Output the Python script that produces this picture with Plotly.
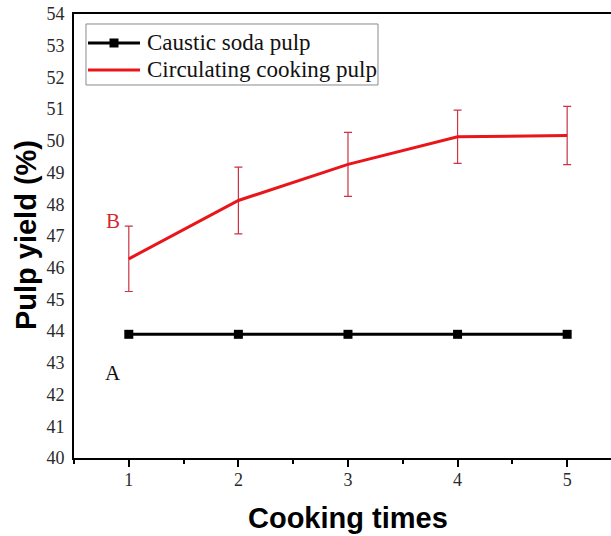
import plotly.graph_objects as go

cooking_times = [1, 2, 3, 4, 5]
caustic_soda = [43.9, 43.9, 43.9, 43.9, 43.9]
circulating = [46.28, 48.12, 49.26, 50.13, 50.17]
circulating_err = [1.03, 1.05, 1.01, 0.84, 0.92]
legend_labels = ["Caustic soda pulp", "Circulating cooking pulp"]

serif = "Liberation Serif, Times New Roman, serif"
sans = "Liberation Sans, Arial, sans-serif"
black = "black"
red = "#e8161b"

fig = go.Figure()
fig.add_trace(go.Scatter(
    x=cooking_times, y=caustic_soda, name=legend_labels[0],
    mode="lines+markers",
    line=dict(color=black, width=3),
    marker=dict(symbol="square", size=9, color=black),
    showlegend=False,
))
fig.add_trace(go.Scatter(
    x=cooking_times, y=circulating, name=legend_labels[1],
    mode="lines",
    line=dict(color=red, width=3),
    error_y=dict(type="data", array=circulating_err, visible=True,
                 color="#cc3344", thickness=1.2, width=4),
    showlegend=False,
))

# point labels
fig.add_annotation(x=0.855, y=47.47, xref="x", yref="y", text="B", showarrow=False,
                   font=dict(family=serif, size=21, color="#d42a2a"))
fig.add_annotation(x=0.855, y=42.67, xref="x", yref="y", text="A", showarrow=False,
                   font=dict(family=serif, size=21, color="#111111"))

# axis titles
fig.add_annotation(x=3, y=-0.135, xref="x", yref="paper", text="<b>Cooking times</b>",
                   xanchor="center", yanchor="middle",
                   showarrow=False, font=dict(family=sans, size=29, color="black"))
fig.add_annotation(x=-0.0894, y=0.502, xref="paper", yref="paper", text="<b>Pulp yield (%)</b>",
                   xanchor="center", yanchor="middle",
                   textangle=-90, showarrow=False, font=dict(family=sans, size=29, color="black"))

# custom legend (box, samples, labels)
fig.add_shape(type="rect", xref="paper", yref="paper", x0=0.0223, x1=0.5661, y0=0.8401, y1=0.9775,
              line=dict(color="#8a8a8a", width=1), fillcolor="white", layer="above")
rows_y = [0.9347, 0.8739]
colors = [black, red]
for ry, col, lab in zip(rows_y, colors, legend_labels):
    fig.add_shape(type="line", xref="paper", yref="paper", x0=0.0261, x1=0.1229, y0=ry, y1=ry,
                  line=dict(color=col, width=3), layer="above")
    fig.add_annotation(x=0.1322, y=ry, xref="paper", yref="paper", text=lab, showarrow=False,
                       xanchor="left", yanchor="middle",
                       font=dict(family=serif, size=23, color="#111111"))
fig.add_shape(type="rect", xref="paper", yref="paper", xsizemode="pixel", ysizemode="pixel",
              xanchor=0.0745, yanchor=rows_y[0], x0=-4.5, x1=4.5, y0=-4.5, y1=4.5,
              line=dict(width=0), fillcolor=black, layer="above")

fig.update_layout(
    width=611, height=536,
    margin=dict(l=74, r=0, t=14, b=78, pad=0),
    plot_bgcolor="white", paper_bgcolor="white",
    showlegend=False,
)
fig.update_xaxes(
    range=[0.5, 5.4], tickmode="linear", tick0=1, dtick=1,
    showgrid=False, zeroline=False,
    showline=True, linecolor="black", linewidth=2, mirror=True,
    ticks="outside", ticklen=7, tickwidth=1.5, tickcolor="black",
    minor=dict(ticks="outside", ticklen=4, tickwidth=1.5, tickcolor="black", dtick=0.5, tick0=0.5),
    tickfont=dict(family=serif, size=18, color="#2a2a2a"),
    ticklabelstandoff=-3,
)
fig.update_yaxes(
    range=[40, 54], tickmode="linear", tick0=40, dtick=1,
    showgrid=False, zeroline=False,
    showline=True, linecolor="black", linewidth=2, mirror=False,
    ticks="", ticklabelstandoff=4,
    tickfont=dict(family=serif, size=18, color="#2a2a2a"),
)

fig.write_html("out.html")
